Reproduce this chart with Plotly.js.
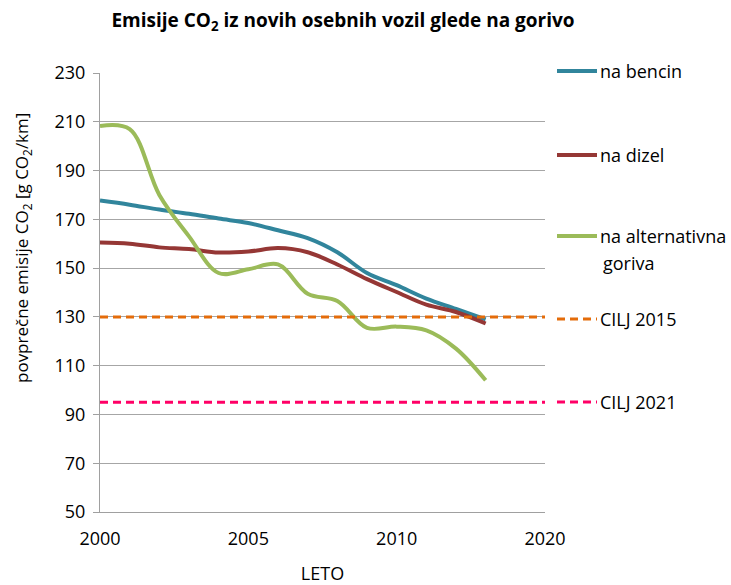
<!DOCTYPE html>
<html>
<head>
<meta charset="utf-8">
<script src="https://cdn.plot.ly/plotly-3.0.1.min.js"></script>
<style>
  html, body { margin: 0; padding: 0; background: #fff; }
  #chart { width: 731px; height: 585px; }
</style>
</head>
<body>
<div id="chart"></div>
<script>
// Category axis (as in the original spreadsheet chart)
const categories = ['2000','2001','2002','2003','2004','2005','2006','2007','2008','2009','2010','2011','2012','2013','2014','2020'];
const labeledTicks = ['2000','2005','2010','2020'];

// Data years
const years = ['2000','2001','2002','2003','2004','2005','2006','2007','2008','2009','2010','2011','2012','2013'];
const bencin = [177.7, 176.0, 174.0, 172.3, 170.3, 168.5, 165.5, 162.3, 156.5, 148.0, 143.0, 137.5, 133.3, 129.0];
const dizel = [160.5, 160.0, 158.5, 157.8, 156.4, 156.8, 158.2, 156.5, 151.5, 145.5, 140.2, 135.0, 132.0, 127.3];
const alternativna = [208.3, 207.0, 180.0, 163.0, 148.0, 149.5, 151.5, 139.5, 136.5, 125.5, 126.0, 124.5, 117.0, 104.0];

// Targets
const targetYears = ['2000', '2020'];
const cilj2015 = [130, 130];
const cilj2021 = [95, 95];

const seriesNames = ['na bencin', 'na dizel', 'na alternativna', 'CILJ 2015', 'CILJ 2021'];
const colors = ['#31859C', '#953735', '#9BBB59', '#E46C0A', '#FF0066'];

const FONT = 'Open Sans, Liberation Sans, sans-serif';

const traces = [
  {x: years, y: bencin, name: seriesNames[0], mode: 'lines', line: {color: colors[0], width: 4, shape: 'spline', smoothing: 1}},
  {x: years, y: dizel, name: seriesNames[1], mode: 'lines', line: {color: colors[1], width: 4, shape: 'spline', smoothing: 1}},
  {x: years, y: alternativna, name: seriesNames[2], mode: 'lines', line: {color: colors[2], width: 4, shape: 'spline', smoothing: 1}},
  {x: targetYears, y: cilj2015, name: seriesNames[3], mode: 'lines', line: {color: colors[3], width: 3, dash: '8px,5px'}},
  {x: targetYears, y: cilj2021, name: seriesNames[4], mode: 'lines', line: {color: colors[4], width: 3, dash: '8px,5px'}}
];

// Legend drawn manually to match the original spacing
const plotL = 100, plotR = 545, plotT = 73, plotB = 512;
const px2paperX = p => (p - plotL) / (plotR - plotL);
const px2paperY = p => (plotB - p) / (plotB - plotT);
const legendY = [71, 155, 236, 319, 402];
const legendDash = ['solid', 'solid', 'solid', '8px,5px', '8px,5px'];
const legendWidth = [4, 4, 4, 3, 3];

const shapes = [];
const annotations = [];
legendY.forEach((py, i) => {
  shapes.push({type: 'line', xref: 'paper', yref: 'paper',
    x0: px2paperX(557), x1: px2paperX(597), y0: px2paperY(py), y1: px2paperY(py),
    line: {color: colors[i], width: legendWidth[i], dash: legendDash[i]}});
  annotations.push({xref: 'paper', yref: 'paper', x: px2paperX(598), y: px2paperY(py),
    xanchor: 'left', yanchor: 'middle', showarrow: false, text: seriesNames[i],
    font: {family: FONT, size: 18, color: '#000'}});
});
annotations.push({xref: 'paper', yref: 'paper', x: px2paperX(601), y: px2paperY(263),
  xanchor: 'left', yanchor: 'middle', showarrow: false, text: 'goriva',
  font: {family: FONT, size: 18, color: '#000'}});
// Y axis title (placed as in the original, above the axis centre)
annotations.push({xref: 'paper', yref: 'paper', x: px2paperX(22), y: px2paperY(248),
  xanchor: 'center', yanchor: 'middle', showarrow: false, textangle: -90,
  text: 'povprečne emisije CO<sub>2</sub> [g CO<sub>2</sub>/km]',
  font: {family: FONT, size: 17, color: '#000'}});

const layout = {
  width: 731, height: 585,
  margin: {l: plotL, r: 731 - plotR, t: plotT, b: 585 - plotB},
  paper_bgcolor: '#fff', plot_bgcolor: '#fff',
  showlegend: false,
  title: {text: '<b>Emisije CO<sub>2</sub> iz novih osebnih vozil glede na gorivo</b>',
    xref: 'container', x: 343 / 731, xanchor: 'center',
    yref: 'container', y: 1 - 20 / 585, yanchor: 'middle',
    font: {family: FONT, size: 19, color: '#000'}},
  xaxis: {
    type: 'category', categoryorder: 'array', categoryarray: categories,
    range: [0, categories.length - 1],
    tickmode: 'array', tickvals: labeledTicks, ticktext: labeledTicks,
    ticks: '', ticklabelstandoff: 10,
    showline: true, linecolor: '#a0a0a0', linewidth: 1,
    showgrid: false, zeroline: false,
    tickfont: {family: FONT, size: 18, color: '#000'},
    title: {text: 'LETO', font: {family: FONT, size: 18, color: '#000'}, standoff: 18}
  },
  xaxis2: {
    type: 'category', categoryorder: 'array', categoryarray: categories,
    range: [0, categories.length - 1],
    overlaying: 'x', anchor: 'y', side: 'bottom',
    tickmode: 'array', tickvals: categories,
    showticklabels: false,
    ticks: 'outside', ticklen: 6, tickcolor: '#a0a0a0', tickwidth: 1,
    showline: false, showgrid: false, zeroline: false
  },
  yaxis: {
    range: [50, 230], dtick: 20, tick0: 50,
    ticks: 'outside', ticklen: 6, tickcolor: '#a0a0a0', tickwidth: 1,
    ticklabelstandoff: 4,
    showline: true, linecolor: '#a0a0a0', linewidth: 1,
    showgrid: true, gridcolor: '#a6a6a6', gridwidth: 1, zeroline: false,
    tickfont: {family: FONT, size: 18, color: '#000'}
  },
  shapes: shapes,
  annotations: annotations
};

Plotly.newPlot('chart', traces, layout, {displayModeBar: false, responsive: false});
</script>
</body>
</html>
